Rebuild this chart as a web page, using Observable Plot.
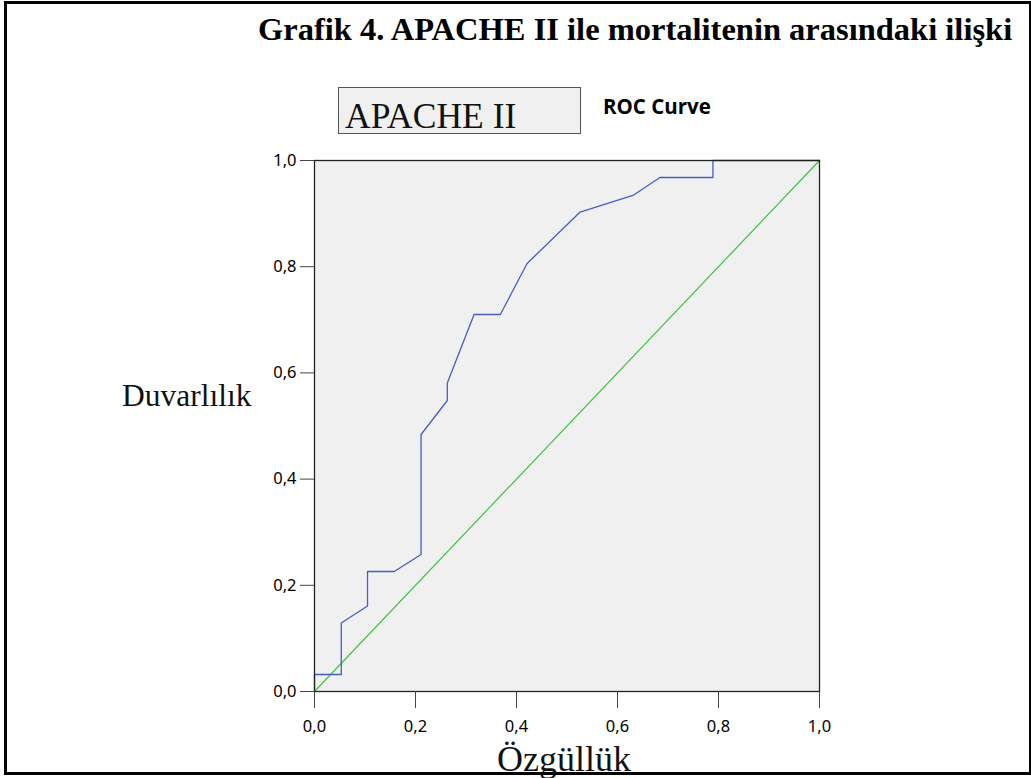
<!DOCTYPE html>
<html>
<head>
<meta charset="utf-8">
<script src="https://cdn.jsdelivr.net/npm/d3@7"></script>
<script src="https://cdn.jsdelivr.net/npm/@observablehq/plot@0.6"></script>
<style>
  body { margin: 0; background: #fff; }
  #wrap { position: relative; width: 1031px; height: 778px; overflow: hidden; }
  #frame { position: absolute; left: 4px; top: 1px; width: 1027px; height: 774px; border: 3px solid #000; border-right-width: 2px; box-sizing: border-box; }
  .t { position: absolute; white-space: nowrap; line-height: 1; }
  #title { left: 258px; top: 11px; font: bold 32.5px "Liberation Serif", "DejaVu Serif", serif; color: #000; }
  #box { position: absolute; left: 338px; top: 87px; width: 243px; height: 47px; background: #f0f0f0; border: 1px solid #555; box-sizing: border-box; }
  #boxtext { left: 345px; top: 95px; font: 35.5px "Liberation Serif", serif; color: #111; }
  #roc { left: 603px; top: 92px; font: bold 20.5px "Open Sans", "Noto Sans", sans-serif; color: #000; }
  #ylab { left: 122px; top: 378px; font: 31.5px "Liberation Serif", serif; color: #111; }
  #xlab { left: 497px; top: 747px; font: 36px "Liberation Serif", serif; line-height: 0.7; color: #111; }
  #chart { position: absolute; left: 0; top: 0; }
  #chart svg text { font-size: 16.5px !important; font-family: "Noto Sans", "Open Sans", sans-serif; fill: #000; }
</style>
</head>
<body>
<div id="wrap">
  <div id="chart"></div>
  <div id="frame"></div>
  <div class="t" id="title">Grafik 4. APACHE II ile mortalitenin arasındaki ilişki</div>
  <div id="box"></div>
  <div class="t" id="boxtext">APACHE II</div>
  <div class="t" id="roc">ROC Curve</div>
  <div class="t" id="ylab">Duvarlılık</div>
  <div class="t" id="xlab">Özgüllük</div>
</div>
<script>
// ROC curve points (1 - specificity, sensitivity)
const fpr = [0, 0, 0.053, 0.053, 0.105, 0.105, 0.158, 0.211, 0.211, 0.263, 0.263, 0.316, 0.368, 0.421, 0.526, 0.632, 0.684, 0.789, 0.789, 1];
const tpr = [0, 0.032, 0.032, 0.129, 0.161, 0.226, 0.226, 0.258, 0.484, 0.548, 0.581, 0.710, 0.710, 0.806, 0.903, 0.935, 0.968, 0.968, 1, 1];
// Reference diagonal
const refX = [0, 1];
const refY = [0, 1];
const ticks = [0, 0.2, 0.4, 0.6, 0.8, 1.0];

const curve = fpr.map((x, i) => ({x, y: tpr[i]}));
const diag = refX.map((x, i) => ({x, y: refY[i]}));
const fmt = d => d.toFixed(1).replace(".", ",");

const chart = Plot.plot({
  width: 1031,
  height: 778,
  marginLeft: 314,
  marginRight: 212,
  marginTop: 160,
  marginBottom: 87,
  style: { fontFamily: "'Noto Sans', 'Open Sans', sans-serif", fontSize: "16.5px", color: "#111", background: "transparent", overflow: "visible" },
  x: { domain: [0, 1], label: null },
  y: { domain: [0, 1], label: null },
  marks: [
    Plot.frame({ fill: "#f0f0f0", stroke: "none" }),
    Plot.line(diag, { x: "x", y: "y", stroke: "#3ec43e", strokeWidth: 1.2 }),
    Plot.line(curve, { x: "x", y: "y", stroke: "#4a5cc0", strokeWidth: 1.3 }),
    Plot.frame({ stroke: "#222", strokeWidth: 1.3 }),
    Plot.axisX({ ticks, tickFormat: fmt, tickSize: 17, tickPadding: 12, stroke: "#444", fill: "#000", fontSize: 16.5, label: null }),
    Plot.axisY({ ticks, tickFormat: fmt, tickSize: 14, tickPadding: 4, stroke: "#444", fill: "#000", fontSize: 16.5, label: null })
  ]
});
document.getElementById("chart").appendChild(chart);
</script>
</body>
</html>
